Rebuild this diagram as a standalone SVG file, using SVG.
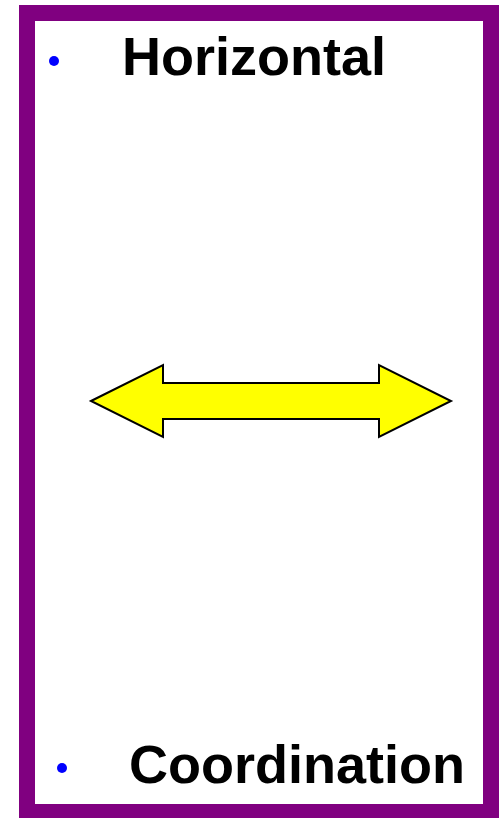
<svg xmlns="http://www.w3.org/2000/svg" width="500" height="818" viewBox="0 0 500 818">
<style>
.t{font-family:"Liberation Sans",Arial,sans-serif;font-weight:bold;font-size:54px;fill:#000}
.b{fill:#0000ff}
</style>
<rect x="0" y="0" width="500" height="818" fill="#fff"/>
<g id="frame"><rect x="19" y="5" width="480" height="813" fill="#800080"/><rect x="35" y="21" width="448" height="783" fill="#fff"/></g>
<g id="top"><circle class="b" cx="54" cy="61" r="5"/><text class="t" x="122" y="75">Horizontal</text></g>
<g id="bottom"><circle class="b" cx="62" cy="768" r="5"/><text class="t" x="129" y="783">Coordination</text></g>
<g id="connectors"><polygon points="91,401 163,365 163,383 379,383 379,365 451,401 379,437 379,419 163,419 163,437" fill="#ffff00" stroke="#000" stroke-width="2"/></g>
</svg>
